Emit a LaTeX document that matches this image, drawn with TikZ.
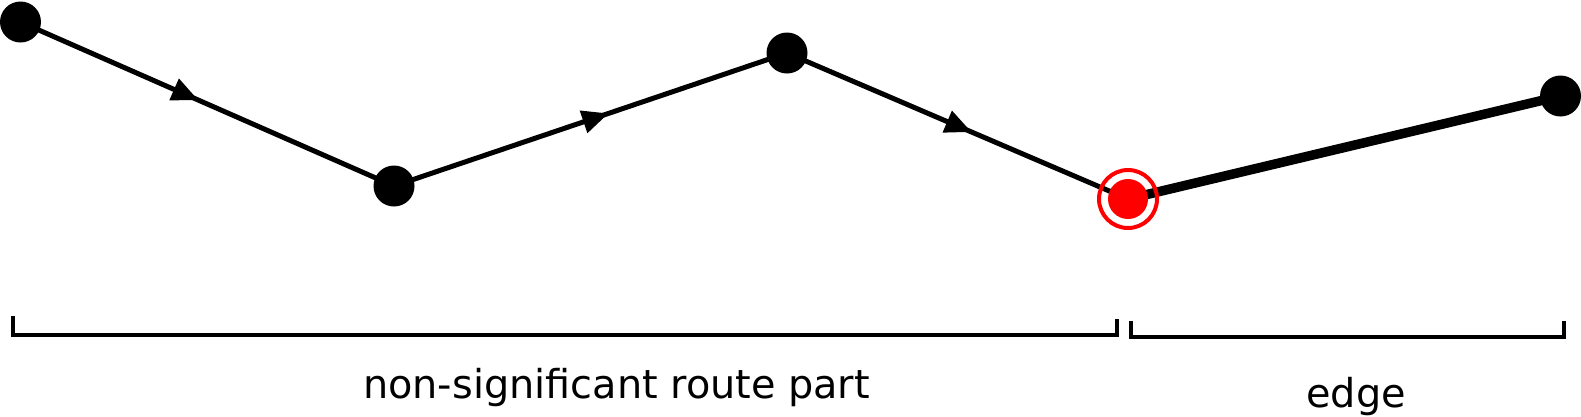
\documentclass[tikz,border=0pt]{standalone}
\usepackage{fontspec}
\setmainfont{DejaVu Sans}
\usetikzlibrary{decorations.markings}
\tikzset{
  vtx/.style={circle, fill=black, minimum size=41pt, inner sep=0pt},
  seg/.style={line width=5pt},
  thickseg/.style={line width=9.5pt},
  midarrow/.style={postaction={decorate}, decoration={markings,
      mark=at position #1 with {\fill (0pt,0pt) -- (-26pt,12pt) -- (-26pt,-12pt) -- cycle;}}},
  bracket/.style={line width=4pt, line join=miter},
  lbl/.style={anchor=base, inner sep=0pt, font=\fontsize{39.8}{47}\selectfont},
  ring/.style={circle, draw=red, line width=4pt, minimum size=58pt, inner sep=0pt},
  reddot/.style={circle, fill=red, minimum size=40pt, inner sep=0pt}
}
\begin{document}
\begin{tikzpicture}[x=1pt,y=-1pt]
\useasboundingbox (0,0) rectangle (1581,416);
\coordinate (p1) at (20.5,22);
\coordinate (p2) at (394,186);
\coordinate (p3) at (787,53);
\coordinate (p4) at (1128,199);
\coordinate (p5) at (1560.5,96);
% connectors
\draw[seg, midarrow=0.475] (p1) -- (p2);
\draw[seg, midarrow=0.545] (p2) -- (p3);
\draw[seg, midarrow=0.54] (p3) -- (p4);
\draw[thickseg] (p4) -- (p5);
% nodes
\node[vtx] (n1) at (p1) {};
\node[vtx] (n2) at (p2) {};
\node[vtx] (n3) at (p3) {};
\node[ring] (n4) at (p4) {};
\node[reddot] (n4dot) at (p4) {};
\node[vtx] (n5) at (p5) {};
% brackets
\draw[bracket] (13,316) -- (13,335) -- (1117,335) -- (1117,318.5);
\draw[bracket] (1131.3,321) -- (1131.3,337) -- (1564,337) -- (1564,321);
% labels
\node[lbl] (t1) at (616.5,398) {non-significant route part};
\node[lbl] (t2) at (1356,407) {edge};
\end{tikzpicture}
\end{document}
